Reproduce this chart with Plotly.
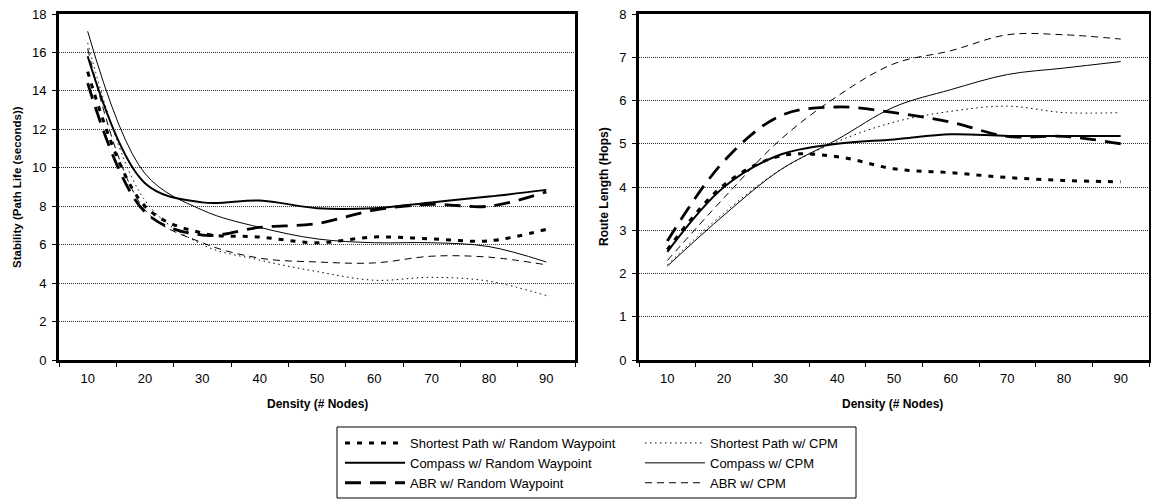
import plotly.graph_objects as go

density = [10, 20, 30, 40, 50, 60, 70, 80, 90]

# Stability (Path Life (seconds))
sp_rw_stab = [15.0, 8.0, 6.6, 6.4, 6.1, 6.4, 6.3, 6.2, 6.8]
sp_cpm_stab = [16.5, 8.3, 6.0, 5.2, 4.6, 4.15, 4.3, 4.1, 3.35]
compass_rw_stab = [15.8, 9.2, 8.2, 8.3, 7.9, 7.9, 8.2, 8.5, 8.85]
compass_cpm_stab = [17.1, 9.7, 7.8, 6.9, 6.3, 6.1, 6.1, 5.9, 5.1]
abr_rw_stab = [14.4, 7.7, 6.5, 6.9, 7.1, 7.8, 8.1, 8.0, 8.75]
abr_cpm_stab = [16.2, 7.8, 6.1, 5.3, 5.1, 5.05, 5.4, 5.35, 4.95]

# Route Length (Hops)
sp_rw_route = [2.55, 4.05, 4.72, 4.7, 4.42, 4.33, 4.22, 4.15, 4.12]
sp_cpm_route = [2.2, 3.4, 4.4, 5.05, 5.5, 5.75, 5.87, 5.72, 5.72]
compass_rw_route = [2.5, 4.0, 4.75, 5.0, 5.1, 5.22, 5.18, 5.18, 5.18]
compass_cpm_route = [2.17, 3.35, 4.4, 5.1, 5.85, 6.25, 6.6, 6.75, 6.9]
abr_rw_route = [2.75, 4.6, 5.65, 5.85, 5.72, 5.5, 5.17, 5.17, 5.0]
abr_cpm_route = [2.3, 3.75, 5.1, 6.1, 6.85, 7.15, 7.52, 7.52, 7.42]

series_names = [
    "Shortest Path w/ Random Waypoint",
    "Compass w/ Random Waypoint",
    "ABR w/ Random Waypoint",
    "Shortest Path w/ CPM",
    "Compass w/ CPM",
    "ABR w/ CPM",
]
stab = [sp_rw_stab, compass_rw_stab, abr_rw_stab, sp_cpm_stab, compass_cpm_stab, abr_cpm_stab]
route = [sp_rw_route, compass_rw_route, abr_rw_route, sp_cpm_route, compass_cpm_route, abr_cpm_route]
styles = [
    dict(width=3.0, dash="5px,7px"),
    dict(width=2.0, dash="solid"),
    dict(width=2.8, dash="16px,9px"),
    dict(width=1.0, dash="1.5px,3.5px"),
    dict(width=1.0, dash="solid"),
    dict(width=1.0, dash="7px,5px"),
]
legends = ["legend", "legend", "legend", "legend2", "legend2", "legend2"]

W, H = 1151, 500
FONT = "Arial, Liberation Sans, sans-serif"

fig = go.Figure()
for i, name in enumerate(series_names):
    fig.add_trace(go.Scatter(
        x=density, y=stab[i], mode="lines", name=name,
        line=dict(color="black", shape="spline", smoothing=1.0, **styles[i]),
        xaxis="x", yaxis="y", legend=legends[i], legendgroup=name,
    ))
for i, name in enumerate(series_names):
    fig.add_trace(go.Scatter(
        x=density, y=route[i], mode="lines", name=name, showlegend=False,
        line=dict(color="black", shape="spline", smoothing=1.0, **styles[i]),
        xaxis="x2", yaxis="y2", legendgroup=name,
    ))

def xaxis(domain, anchor):
    return dict(
        domain=domain, anchor=anchor, range=[5, 95],
        tickvals=density, ticktext=[str(d) for d in density], ticks="",
        ticklabelstandoff=4,
        minor=dict(tick0=5, dtick=10, ticks="outside", ticklen=4, tickwidth=1, tickcolor="black"),
        showgrid=False, zeroline=False,
        showline=True, linewidth=3, linecolor="black", mirror=True,
        tickfont=dict(family=FONT, size=13, color="black"), automargin=False,
    )

def yaxis(domain, anchor, rng, dtick):
    return dict(
        domain=domain, anchor=anchor, range=rng, dtick=dtick, tick0=0,
        ticks="outside", ticklen=4, tickwidth=1, tickcolor="black",
        ticklabelstandoff=3,
        showgrid=True, gridcolor="#333", griddash="1px,1px", gridwidth=1,
        zeroline=False,
        showline=True, linewidth=3, linecolor="black", mirror=True,
        tickfont=dict(family=FONT, size=13, color="black"), automargin=False,
    )

ydom = [(H - 360) / H, (H - 14) / H]
leg_font = dict(family=FONT, size=13, color="black")
fig.update_layout(
    width=W, height=H,
    margin=dict(l=0, r=0, t=0, b=0),
    paper_bgcolor="white", plot_bgcolor="white",
    xaxis=xaxis([59 / W, 575 / W], "y"),
    yaxis=yaxis(ydom, "x", [0, 18], 2),
    xaxis2=xaxis([639 / W, 1149 / W], "y2"),
    yaxis2=yaxis(ydom, "x2", [0, 8], 1),
    legend=dict(x=340 / W, y=(H - 428) / H, xanchor="left", yanchor="top",
                bgcolor="rgba(0,0,0,0)", itemwidth=60, font=leg_font, tracegroupgap=0),
    legend2=dict(x=640 / W, y=(H - 428) / H, xanchor="left", yanchor="top",
                 bgcolor="rgba(0,0,0,0)", itemwidth=60, font=leg_font, tracegroupgap=0),
    shapes=[dict(type="rect", xref="paper", yref="paper",
                 x0=337 / W, x1=856 / W, y0=(H - 498) / H, y1=(H - 427) / H,
                 line=dict(color="black", width=1))],
    annotations=[
        dict(text="<b>Density (# Nodes)</b>", x=317 / W, y=(H - 404) / H, xref="paper", yref="paper",
             xanchor="center", yanchor="middle",
             showarrow=False, font=dict(family=FONT, size=12, color="black")),
        dict(text="<b>Density (# Nodes)</b>", x=892 / W, y=(H - 404) / H, xref="paper", yref="paper",
             xanchor="center", yanchor="middle",
             showarrow=False, font=dict(family=FONT, size=12, color="black")),
        dict(text="<b>Stability (Path Life (seconds))</b>", x=17 / W, y=(H - 187) / H, xref="paper", yref="paper",
             xanchor="center", yanchor="middle",
             showarrow=False, textangle=-90, font=dict(family=FONT, size=11.5, color="black")),
        dict(text="<b>Route Length (Hops)</b>", x=604 / W, y=(H - 187) / H, xref="paper", yref="paper",
             xanchor="center", yanchor="middle",
             showarrow=False, textangle=-90, font=dict(family=FONT, size=12, color="black")),
    ],
)

fig.write_html("out.html")
